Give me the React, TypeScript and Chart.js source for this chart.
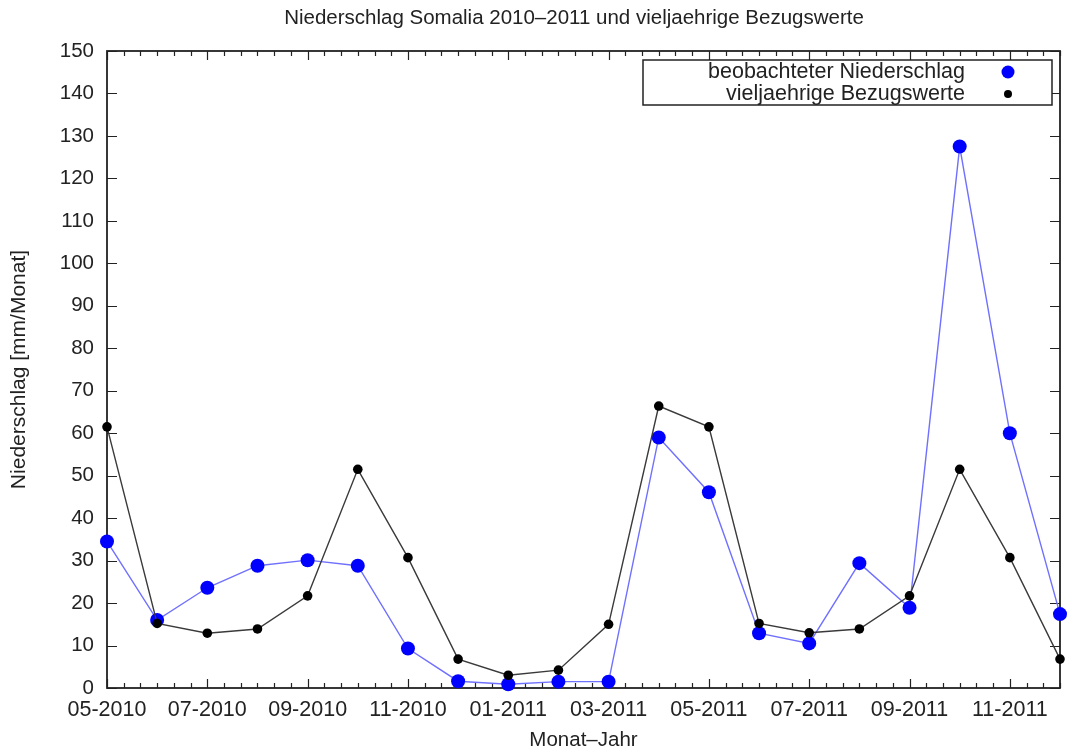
import React, { useEffect, useRef } from 'react';
import { Chart, registerables } from 'chart.js';

Chart.register(...registerables);

const titleText = 'Niederschlag Somalia 2010\u20132011 und vieljaehrige Bezugswerte';
const xTitle = 'Monat\u2013Jahr';
const yTitle = 'Niederschlag [mm/Monat]';

const months = [
  '05-2010', '06-2010', '07-2010', '08-2010', '09-2010', '10-2010', '11-2010', '12-2010',
  '01-2011', '02-2011', '03-2011', '04-2011', '05-2011', '06-2011', '07-2011', '08-2011',
  '09-2011', '10-2011', '11-2011', '12-2011',
];
const tickLabels = ['05-2010', '07-2010', '09-2010', '11-2010', '01-2011', '03-2011', '05-2011', '07-2011', '09-2011', '11-2011'];

const observedLabel = 'beobachteter Niederschlag';
const referenceLabel = 'vieljaehrige Bezugswerte';

const observed = [34.5, 16.0, 23.6, 28.8, 30.1, 28.8, 9.3, 1.6, 0.9, 1.5, 1.5, 59.0, 46.1, 12.9, 10.5, 29.4, 18.9, 127.5, 60.0, 17.4];
const reference = [61.5, 15.2, 12.9, 13.9, 21.7, 51.5, 30.7, 6.8, 3.0, 4.2, 15.0, 66.4, 61.5, 15.2, 13.0, 13.9, 21.7, 51.5, 30.7, 6.8];

const yMin = 0;
const yMax = 150;
const yStep = 10;

const FONT = "'Liberation Sans', Arial, sans-serif";
const TEXT = '#222';
const BLUE = '#0000ff';
const BLUE_LINE = '#7070ff';
const BLACK = '#000000';
const BLACK_LINE = '#3a3a3a';

const framePlugin = {
  id: 'gnuFrame',
  beforeDatasetsDraw(chart: any) {
    const { ctx, chartArea: a, scales } = chart;
    const x = scales.x;
    const y = scales.y;
    ctx.save();
    ctx.strokeStyle = '#222';
    ctx.lineWidth = 1.2;
    ctx.beginPath();
    for (let v = yMin; v <= yMax; v += yStep) {
      const py = Math.round(y.getPixelForValue(v)) + 0.5;
      ctx.moveTo(a.left, py);
      ctx.lineTo(a.left + 10, py);
      ctx.moveTo(a.right, py);
      ctx.lineTo(a.right - 10, py);
    }
    const n = (months.length - 1) * 3;
    for (let k = 0; k <= n; k++) {
      const px = Math.round(x.getPixelForValue(k / 3)) + 0.5;
      const len = k % 6 === 0 ? 9 : 5;
      ctx.moveTo(px, a.bottom);
      ctx.lineTo(px, a.bottom - len);
      ctx.moveTo(px, a.top);
      ctx.lineTo(px, a.top + len);
    }
    ctx.stroke();
    ctx.lineWidth = 1.8;
    ctx.strokeRect(a.left, a.top, a.right - a.left, a.bottom - a.top);
    ctx.restore();
  },
  afterDraw(chart: any) {
    const { ctx } = chart;
    ctx.save();
    // title
    ctx.fillStyle = TEXT;
    ctx.font = `20.5px ${FONT}`;
    ctx.textAlign = 'center';
    ctx.textBaseline = 'middle';
    ctx.fillText(titleText, 574, 18);
    // legend box
    ctx.fillStyle = '#ffffff';
    ctx.fillRect(643, 60, 409, 45);
    ctx.strokeStyle = '#222';
    ctx.lineWidth = 1.5;
    ctx.strokeRect(643, 60, 409, 45);
    ctx.fillStyle = TEXT;
    ctx.font = `21.5px ${FONT}`;
    ctx.textAlign = 'right';
    ctx.fillText(observedLabel, 965, 72);
    ctx.fillText(referenceLabel, 965, 94);
    ctx.fillStyle = BLUE;
    ctx.beginPath();
    ctx.arc(1008, 72, 6.5, 0, Math.PI * 2);
    ctx.fill();
    ctx.fillStyle = BLACK;
    ctx.beginPath();
    ctx.arc(1008, 94, 4, 0, Math.PI * 2);
    ctx.fill();
    ctx.restore();
  },
};

export default function App() {
  const ref = useRef<HTMLCanvasElement | null>(null);

  useEffect(() => {
    if (!ref.current) return;
    const tickValues = tickLabels.map((l) => months.indexOf(l));
    const chart = new Chart(ref.current, {
      type: 'line',
      data: {
        datasets: [
          {
            label: observedLabel,
            data: observed.map((v, i) => ({ x: i, y: v })),
            borderColor: BLUE_LINE,
            borderWidth: 1.4,
            backgroundColor: BLUE,
            pointBackgroundColor: BLUE,
            pointBorderColor: BLUE,
            pointRadius: 7,
            pointBorderWidth: 0,
            tension: 0,
            clip: false,
            order: 1,
          },
          {
            label: referenceLabel,
            data: reference.map((v, i) => ({ x: i, y: v })),
            borderColor: BLACK_LINE,
            borderWidth: 1.4,
            backgroundColor: BLACK,
            pointBackgroundColor: BLACK,
            pointBorderColor: BLACK,
            pointRadius: 4.8,
            pointBorderWidth: 0,
            tension: 0,
            clip: false,
            order: 0,
          },
        ],
      },
      options: {
        responsive: false,
        animation: false,
        devicePixelRatio: 1,
        layout: { padding: { top: 51, left: 0, right: 1, bottom: 0 } },
        plugins: {
          legend: { display: false },
          title: { display: false },
          tooltip: { enabled: false },
        },
        scales: {
          x: {
            type: 'linear',
            min: 0,
            max: months.length - 1,
            grid: { display: false, drawTicks: false },
            border: { display: false },
            afterFit: (s: any) => { s.height = 66; },
            afterBuildTicks: (s: any) => { s.ticks = tickValues.map((v) => ({ value: v })); },
            ticks: {
              autoSkip: false,
              maxRotation: 0,
              padding: 9,
              color: TEXT,
              font: { family: FONT, size: 21.5 },
              callback: (v: any) => months[Number(v)] ?? '',
            },
            title: {
              display: true,
              text: xTitle,
              color: TEXT,
              font: { family: FONT, size: 20.5, lineHeight: 1 },
              padding: { top: 0, bottom: 3 },
            },
          },
          y: {
            type: 'linear',
            min: yMin,
            max: yMax,
            grid: { display: false, drawTicks: false },
            border: { display: false },
            afterFit: (s: any) => { s.width = 107; },
            ticks: {
              stepSize: yStep,
              padding: 13,
              color: TEXT,
              font: { family: FONT, size: 20.5 },
            },
            title: {
              display: true,
              text: yTitle,
              color: TEXT,
              font: { family: FONT, size: 21, lineHeight: 1 },
              padding: { top: 9, bottom: 0 },
            },
          },
        },
      },
      plugins: [framePlugin],
    } as any);
    return () => chart.destroy();
  }, []);

  return (
    <div style={{ position: 'fixed', left: 0, top: 0, width: 1067, height: 754, background: '#fff' }}>
      <canvas ref={ref} width={1067} height={754} style={{ display: 'block', width: 1067, height: 754 }} />
    </div>
  );
}
